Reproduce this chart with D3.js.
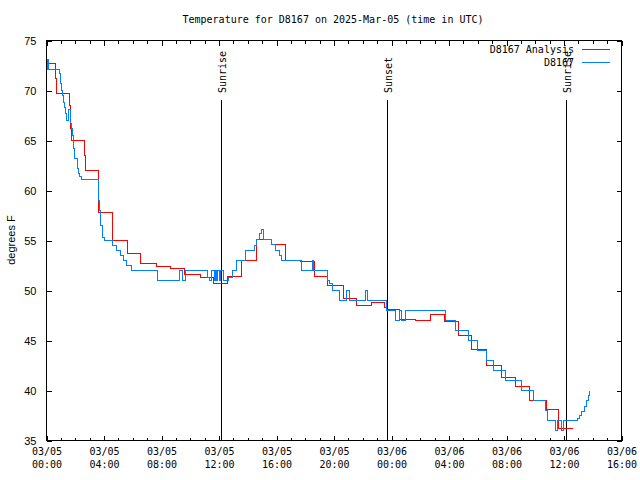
<!DOCTYPE html>
<html><head><meta charset="utf-8">
<script src="https://cdn.jsdelivr.net/npm/d3@7"></script>
<style>
body{margin:0;background:#fff;}
svg{display:block;}
text{font-family:"DejaVu Sans Mono",monospace;font-size:10px;fill:#000;}
.ylab text, .ytitle{font-family:"Liberation Sans",Arial,sans-serif;font-size:11px;}
</style></head><body>
<svg id="c" width="640" height="480"></svg>
<script>
// Hours since 2025-03-05 00:00 UTC
const analysisHours = [0.0,0.64,0.68,1.59,1.66,1.73,2.63,2.70,3.64,4.56,5.60,6.57,7.62,8.66,9.63,10.68,11.60,12.58,13.58,14.60,15.62,16.64,17.70,18.61,19.56,20.65,21.58,22.62,23.50,23.62,24.59,25.64,26.68,27.67,28.65,29.58,30.62,31.62,32.66,33.63,34.75,35.63,36.65];
const analysisTemps = [72.7,71.2,69.7,68.5,66.2,65.0,63.5,62.0,57.8,55.0,53.7,52.7,52.4,52.2,51.6,51.3,50.7,51.4,53.0,55.1,54.6,53.0,52.9,51.4,50.5,49.2,48.5,48.8,48.3,48.1,47.1,47.05,47.6,46.9,45.5,44.1,42.5,41.3,40.4,39.0,38.1,36.2,36.2];

const obsHours = [0.00,0.10,0.13,0.89,0.99,1.06,1.12,1.17,1.24,1.31,1.38,1.50,1.56,1.66,1.75,1.82,1.86,1.91,1.98,2.17,2.26,2.33,2.40,3.60,3.65,3.70,3.78,3.90,4.00,4.60,4.85,5.15,5.35,5.55,5.90,7.73,9.22,9.45,9.66,11.21,11.31,11.45,11.70,11.78,11.86,11.93,12.03,12.10,12.30,12.65,12.95,13.23,13.81,14.50,14.62,14.85,14.97,15.13,15.67,15.90,16.24,16.36,17.75,18.49,18.59,19.53,19.72,19.93,20.35,20.90,21.11,22.21,22.32,23.62,24.31,24.54,24.70,24.94,27.74,28.42,29.34,30.00,30.62,31.08,31.90,33.06,33.87,34.68,34.84,35.44,35.53,35.84,35.95,36.77,36.95,37.10,37.25,37.40,37.55,37.70,37.80];
const obsTemps = [72.1,73.1,72.1,71.7,70.7,70.0,69.5,68.8,68.3,67.7,67.0,67.9,68.1,66.7,66.2,65.5,65.0,64.2,63.2,62.2,61.7,61.4,61.1,60.0,59.0,58.0,56.5,55.3,55.0,54.5,54.0,53.5,53.0,52.5,52.0,51.0,52.0,51.0,52.0,51.3,51.0,52.0,51.0,52.0,51.0,52.0,51.0,52.0,51.0,51.3,52.0,53.0,54.0,54.5,55.1,55.7,56.1,55.1,54.6,54.0,53.5,53.0,52.0,53.0,52.0,51.0,50.7,50.0,49.0,50.0,49.0,50.0,49.0,48.0,47.0,48.0,47.0,48.0,47.0,46.0,45.0,44.0,43.0,42.0,41.0,40.0,39.0,38.0,37.0,36.0,37.0,36.0,37.0,37.0,37.2,37.5,37.9,38.4,39.0,39.5,40.0,40.0];

const sunEvents = [{h:12.12,label:"Sunrise"},{h:23.71,label:"Sunset"},{h:36.14,label:"Sunrise"}];
const yTicks = [35,40,45,50,55,60,65,70,75];
const seriesNames = ["D8167 Analysis","D8167"];
const seriesColors = ["#ff0000","#0080ff"];
const titleText = "Temperature for D8167 on 2025-Mar-05 (time in UTC)";
const yTitle = "degrees F";

const t0 = Date.UTC(2025,2,5,0,0);
const toDate = h => new Date(t0 + h*3600e3);

const L=46.5,R=621.5,T=40.5,B=440.5;
const svg = d3.select("#c");
const x = d3.scaleUtc().domain([toDate(0),toDate(40)]).range([L,R]);
const y = d3.scaleLinear().domain([35,75]).range([B,T]);

// axes
const major = d3.utcHour.every(4), minor = d3.utcHour.every(1);
const fmtD = d3.utcFormat("%m/%d"), fmtT = d3.utcFormat("%H:%M");
const gxMinor = svg.append("g").attr("transform",`translate(0,${B})`)
  .call(d3.axisBottom(x).ticks(minor).tickSize(-3).tickFormat(""));
const gxTopMinor = svg.append("g").attr("transform",`translate(0,${T})`)
  .call(d3.axisTop(x).ticks(minor).tickSize(-3).tickFormat(""));
const gxTop = svg.append("g").attr("transform",`translate(0,${T})`)
  .call(d3.axisTop(x).ticks(major).tickSize(-5).tickFormat(""));
const gx = svg.append("g").attr("transform",`translate(0,${B})`)
  .call(d3.axisBottom(x).ticks(major).tickSize(-5).tickPadding(13).tickFormat(""));
gx.selectAll(".tick text").each(function(d){
  const t=d3.select(this);
  t.append("tspan").attr("x",0).attr("dy","0.1em").text(fmtD(d));
  t.append("tspan").attr("x",0).attr("dy","1.35em").text(fmtT(d));
});
const gy = svg.append("g").attr("class","ylab").attr("transform",`translate(${L},0)`)
  .call(d3.axisLeft(y).tickValues(yTicks).tickSize(-5).tickPadding(10));
const gyR = svg.append("g").attr("transform",`translate(${R},0)`)
  .call(d3.axisRight(y).tickValues(yTicks).tickSize(-5).tickFormat(""));
svg.selectAll(".domain").remove();
svg.selectAll(".tick line").attr("stroke","#000").attr("shape-rendering","crispEdges");
svg.selectAll(".tick text").attr("fill","#000");

// sun lines
sunEvents.forEach(e=>{
  const xx = Math.round(x(toDate(e.h)))+0.5;
  svg.append("line").attr("x1",xx).attr("x2",xx).attr("y1",100).attr("y2",B)
    .attr("stroke","#000").attr("shape-rendering","crispEdges");
  svg.append("text").attr("transform",`translate(${xx+4},93) rotate(-90)`).text(e.label);
});

// series
const line = d3.line().x(d=>x(toDate(d[0]))).y(d=>y(d[1])).curve(d3.curveStepAfter);
const a = analysisHours.map((h,i)=>[h,analysisTemps[i]]);
const o = obsHours.map((h,i)=>[h,obsTemps[i]]);
[a,o].forEach((s,i)=>{
  svg.append("path").datum(s).attr("d",line).attr("fill","none")
    .attr("stroke",seriesColors[i]).attr("stroke-width",1).attr("shape-rendering","crispEdges");
});

// frame
svg.append("rect").attr("x",L).attr("y",T).attr("width",R-L).attr("height",B-T)
  .attr("fill","none").attr("stroke","#000").attr("shape-rendering","crispEdges");

// legend
seriesNames.forEach((n,i)=>{
  const ly = 49.5 + i*13;
  svg.append("text").attr("x",574).attr("y",ly+3.5).attr("text-anchor","end").text(n);
  svg.append("line").attr("x1",582).attr("x2",610).attr("y1",ly).attr("y2",ly)
    .attr("stroke",seriesColors[i]).attr("shape-rendering","crispEdges");
});

// titles
svg.append("text").attr("x",333).attr("y",23).attr("text-anchor","middle").text(titleText);
svg.append("text").attr("class","ytitle").attr("transform","translate(15,240) rotate(-90)")
  .attr("text-anchor","middle").text(yTitle);
</script>
</body></html>
